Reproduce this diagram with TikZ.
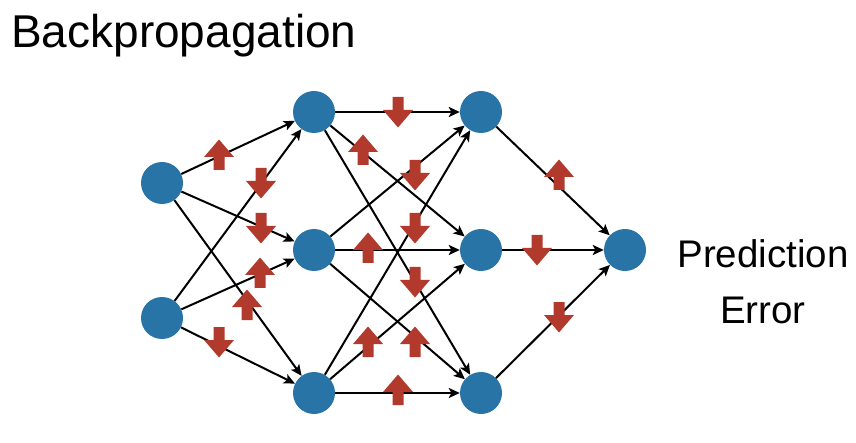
\documentclass[tikz,border=0pt]{standalone}
\usepackage{fontspec}
\setmainfont{Liberation Sans}
\usetikzlibrary{arrows.meta}
\definecolor{nodeblue}{RGB}{40,116,166}
\definecolor{arrred}{RGB}{178,58,44}
\tikzset{
  x=1pt,y=1pt,
  neuron/.style={circle,fill=nodeblue,draw=none,minimum size=42pt,inner sep=0pt},
  edge/.style={black,line width=2pt,-{Stealth[length=11pt,width=10pt,inset=2.5pt]}},
  pics/gradup/.style={code={\fill[arrred] (-5.5,-15)--(5.5,-15)--(5.5,-2)--(15,-2)--(0,15.5)--(-15,-2)--(-5.5,-2)--cycle;}},
  pics/graddown/.style={code={\fill[arrred] (-5.5,15)--(5.5,15)--(5.5,2)--(15,2)--(0,-15.5)--(-15,2)--(-5.5,2)--cycle;}},
}
\begin{document}
\begin{tikzpicture}
\useasboundingbox (0,0) rectangle (856,442);
% neurons
\node[neuron] (I1) at (162,259) {};
\node[neuron] (I2) at (162,124) {};
\node[neuron] (Ha) at (314,330) {};
\node[neuron] (Hb) at (314,192) {};
\node[neuron] (Hc) at (314,49) {};
\node[neuron] (Ga) at (481,330) {};
\node[neuron] (Gb) at (481,192) {};
\node[neuron] (Gc) at (481,49) {};
\node[neuron] (O) at (625,192) {};
% edges
\foreach \a in {I1,I2}{\foreach \b in {Ha,Hb,Hc}{\draw[edge] (\a) -- (\b);}}
\foreach \a in {Ha,Hb,Hc}{\foreach \b in {Ga,Gb,Gc}{\draw[edge] (\a) -- (\b);}}
\foreach \a in {Ga,Gb,Gc}{\draw[edge] (\a) -- (O);}
% gradient arrows
\pic at (219,287) {gradup};
\pic at (261,259) {graddown};
\pic at (261,214) {graddown};
\pic at (260,169) {gradup};
\pic at (247,137) {gradup};
\pic at (219,100) {graddown};
\pic at (398,330) {graddown};
\pic at (363,292) {gradup};
\pic at (415,267) {graddown};
\pic at (415,214) {graddown};
\pic at (368,194) {gradup};
\pic at (415,160) {graddown};
\pic at (368,100) {gradup};
\pic at (415,100) {gradup};
\pic at (398,52) {gradup};
\pic at (559,267) {gradup};
\pic at (537,192) {graddown};
\pic at (559,125) {graddown};
% texts
\node[anchor=base west,inner sep=0pt,font=\fontsize{46}{54}\selectfont] (title) at (11,394) {Backpropagation};
\node[anchor=base,inner sep=0pt,font=\fontsize{38.5}{46}\selectfont] (pred) at (763,174) {Prediction};
\node[anchor=base,inner sep=0pt,font=\fontsize{38.5}{46}\selectfont] (err) at (763,119) {Error};
\end{tikzpicture}
\end{document}
